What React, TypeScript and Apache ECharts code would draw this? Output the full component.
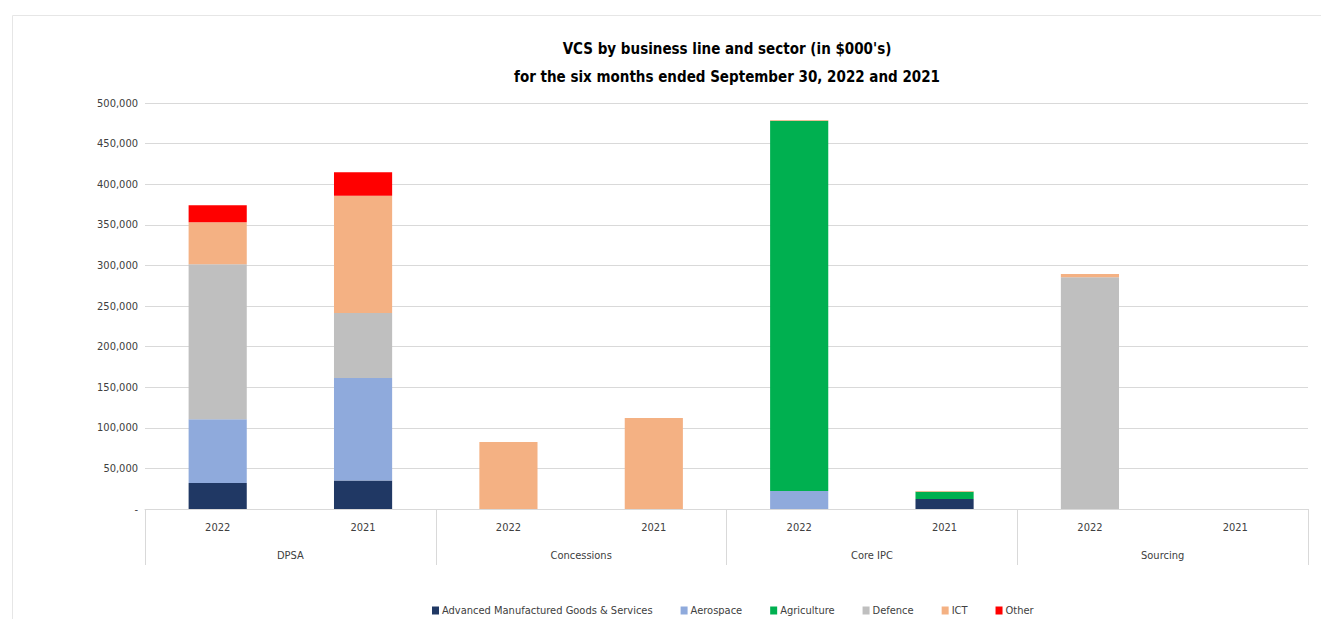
import React, { useEffect, useRef } from "react";
import * as echarts from "echarts";

const years = ["2022", "2021", "2022", "2021", "2022", "2021", "2022", "2021"];
const groups = ["DPSA", "Concessions", "Core IPC", "Sourcing"];
const yTicks = { min: 0, max: 500000, interval: 50000 };

const advancedMfg = [32000, 35000, 0, 0, 0, 12300, 0, 0];
const aerospace = [78500, 126400, 0, 0, 22200, 0, 0, 0];
const agriculture = [0, 0, 0, 0, 456000, 9000, 0, 0];
const defence = [191000, 80000, 0, 0, 0, 0, 285300, 0];
const ict = [51500, 144500, 82500, 112000, 900, 800, 4000, 0];
const other = [21000, 28800, 0, 0, 0, 0, 0, 0];

const seriesDefs = [
  { name: "Advanced Manufactured Goods & Services", data: advancedMfg, color: "#203864" },
  { name: "Aerospace", data: aerospace, color: "#8faadc" },
  { name: "Agriculture", data: agriculture, color: "#00b050" },
  { name: "Defence", data: defence, color: "#bfbfbf" },
  { name: "ICT", data: ict, color: "#f4b183" },
  { name: "Other", data: other, color: "#ff0000" },
];

const FONT = "'Liberation Sans Narrow', 'DejaVu Sans Condensed', 'Liberation Sans', sans-serif";

export default function App() {
  const ref = useRef<HTMLDivElement>(null);
  useEffect(() => {
    if (!ref.current) return;
    const chart = echarts.init(ref.current, null, { renderer: "svg" });
    chart.setOption({
      animation: false,
      backgroundColor: "#ffffff",
      textStyle: { fontFamily: FONT },
      title: {
        text: "VCS by business line and sector (in $000's)\nfor the six months ended September 30, 2022 and 2021",
        left: 722,
        top: 30,
        textAlign: "center",
        textStyle: {
          fontFamily: FONT,
          fontSize: 15,
          fontWeight: "bold",
          color: "#000000",
          lineHeight: 28,
        },
      },
      graphic: [
        {
          type: "polyline",
          shape: { points: [[12.5, 619], [12.5, 15.5], [1321, 15.5]] },
          style: { stroke: "#e6e6e6", lineWidth: 1, fill: null },
          silent: true,
        },
      ],
      legend: {
        left: 427,
        top: 600,
        itemWidth: 7,
        itemHeight: 8,
        itemGap: 28,
        icon: "rect",
        textStyle: { fontFamily: FONT, fontSize: 11, color: "#404040", padding: [0, 0, 0, -2] },
        data: seriesDefs.map((s) => s.name),
      },
      grid: { left: 145, right: 13, top: 103, bottom: 110, containLabel: false },
      xAxis: [
        {
          type: "category",
          data: years,
          position: "bottom",
          axisLine: { show: true, lineStyle: { color: "#d9d9d9", width: 1 } },
          axisTick: { show: false },
          axisLabel: { margin: 13, fontSize: 11, color: "#404040", fontFamily: FONT },
        },
        {
          type: "category",
          data: groups,
          position: "bottom",
          axisLine: { show: false },
          axisTick: { show: true, length: 56, interval: 0, lineStyle: { color: "#d9d9d9", width: 1 } },
          axisLabel: { margin: 41, fontSize: 11, color: "#404040", fontFamily: FONT },
        },
      ],
      yAxis: {
        type: "value",
        min: yTicks.min,
        max: yTicks.max,
        interval: yTicks.interval,
        axisLine: { show: false },
        axisTick: { show: false },
        splitLine: { lineStyle: { color: "#d9d9d9", width: 1 } },
        axisLabel: {
          margin: 7,
          fontSize: 11,
          color: "#404040",
          fontFamily: FONT,
          formatter: (v: number) => (v === 0 ? "-" : v.toLocaleString("en-US")),
        },
      },
      series: seriesDefs.map((s) => ({
        name: s.name,
        type: "bar",
        stack: "total",
        xAxisIndex: 0,
        barWidth: "40%",
        data: s.data,
        itemStyle: { color: s.color },
        emphasis: { disabled: true },
      })),
    });
    return () => chart.dispose();
  }, []);
  return (
    <div
      ref={ref}
      style={{ position: "fixed", left: 0, top: 0, width: 1321, height: 619 }}
    />
  );
}
